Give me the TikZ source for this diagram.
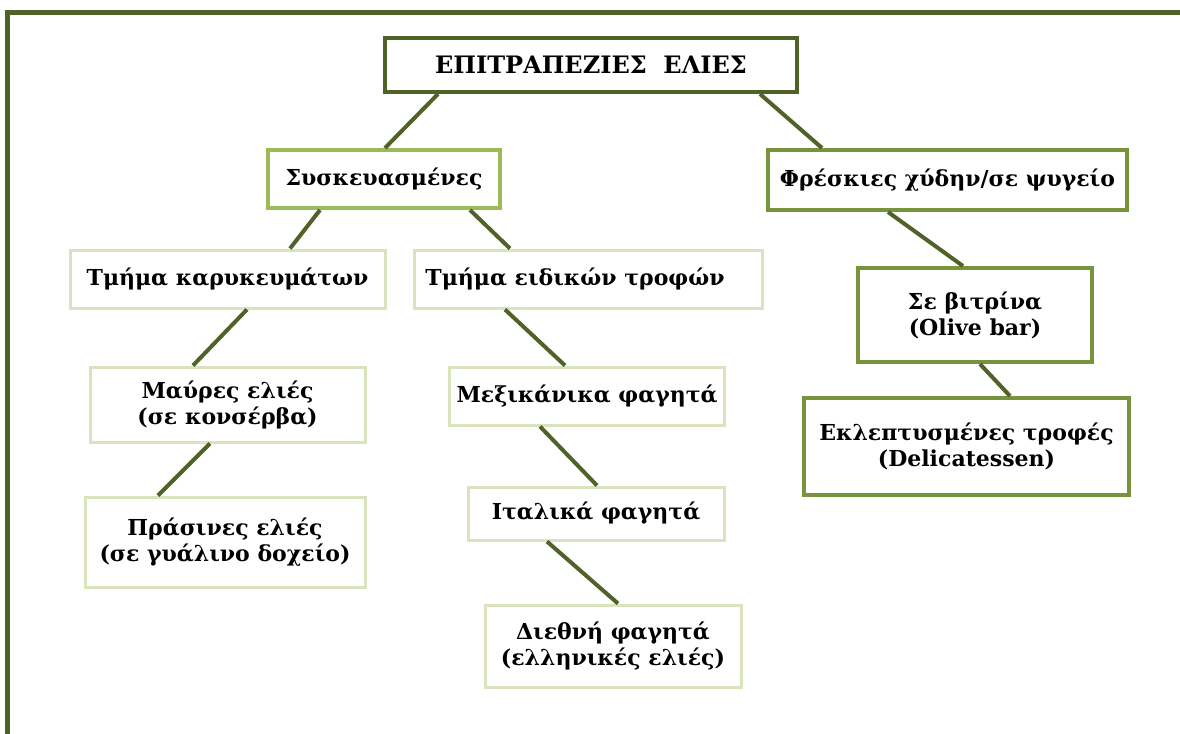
\documentclass[tikz,border=0pt]{standalone}
\usepackage{fontspec}
\setmainfont{DejaVu Serif}
\usepackage{xcolor}

\definecolor{olivedark}{HTML}{4F6228}
\definecolor{olivemid}{HTML}{77933C}
\definecolor{olivelight}{HTML}{9BBB59}
\definecolor{olivepale}{HTML}{D7E4BD}

\tikzset{
    rootbox/.style={draw=olivedark, line width=2pt, fill=white, align=center, font=\fontsize{12}{14}\selectfont\bfseries},
    groupbox/.style={draw=#1, line width=2pt, fill=white, align=center, font=\fontsize{11}{13}\selectfont\bfseries},
    leafbox/.style={draw=olivepale, line width=1.5pt, fill=white, align=center, font=\fontsize{11}{13}\selectfont\bfseries},
    link/.style={draw=olivedark, line width=2pt},
}

\begin{document}
\begin{tikzpicture}[x=1pt, y=1pt]
            \useasboundingbox (0,0) rectangle (590,-367);
            \draw[olivedark, line width=2.5pt] (592,-6) -- (3.5,-6) -- (3.5,-370);

            \node[rootbox, minimum width=206pt, minimum height=27pt] (root) at (295.5,-32.5) {ΕΠΙΤΡΑΠΕΖΙΕΣ\ \ ΕΛΙΕΣ};

            \node[groupbox=olivelight, minimum width=116pt, minimum height=29pt] (sys) at (192,-89.5) {Συσκευασμένες};
            \node[groupbox=olivemid, minimum width=179.5pt, minimum height=30pt] (fre) at (473.75,-90) {Φρέσκιες χύδην/σε ψυγείο};

            \node[leafbox, minimum width=157.5pt, minimum height=29pt] (kar) at (113.75,-139.5) {Τμήμα καρυκευμάτων};
            \node[leafbox, minimum width=174pt, minimum height=29pt] (eid) at (294,-139.5) {Τμήμα ειδικών τροφών\hspace{13pt}};

            \node[leafbox, minimum width=137.5pt, minimum height=37.5pt] (mav) at (113.75,-202.25) {Μαύρες ελιές\\(σε κονσέρβα)};
            \node[leafbox, minimum width=140pt, minimum height=45pt] (pra) at (112.5,-271) {Πράσινες ελιές\\(σε γυάλινο δοχείο)};

            \node[leafbox, minimum width=137pt, minimum height=29pt] (mex) at (293.5,-198) {Μεξικάνικα φαγητά};
            \node[leafbox, minimum width=128pt, minimum height=26.5pt] (ita) at (298,-256.75) {Ιταλικά φαγητά};
            \node[leafbox, minimum width=128pt, minimum height=41pt] (die) at (306.5,-323) {Διεθνή φαγητά\\(ελληνικές ελιές)};

            \node[groupbox=olivemid, minimum width=117pt, minimum height=47pt] (vit) at (487.5,-157.5) {Σε βιτρίνα\\(Olive bar)};
            \node[groupbox=olivemid, minimum width=162.5pt, minimum height=48.5pt] (dlc) at (483.25,-223.25) {Εκλεπτυσμένες τροφές\hspace{10pt}\\(Delicatessen)};

            \draw[link] ([xshift=-76.5pt]root.south) -- ([xshift=0.5pt]sys.north);
            \draw[link] ([xshift=84.5pt]root.south) -- ([xshift=-62.75pt]fre.north);
            \draw[link] ([xshift=-32pt]sys.south) -- ([xshift=31.25pt]kar.north);
            \draw[link] ([xshift=43pt]sys.south) -- ([xshift=-39pt]eid.north);
            \draw[link] ([xshift=9.75pt]kar.south) -- ([xshift=-17.25pt]mav.north);
            \draw[link] ([xshift=-8.75pt]mav.south) -- ([xshift=-33.5pt]pra.north);
            \draw[link] ([xshift=-41.5pt]eid.south) -- ([xshift=-11pt]mex.north);
            \draw[link] ([xshift=-23.5pt]mex.south) -- ([xshift=0.5pt]ita.north);
            \draw[link] ([xshift=-24.5pt]ita.south) -- ([xshift=2.5pt]die.north);
            \draw[link] ([xshift=-29.75pt]fre.south) -- ([xshift=-6pt]vit.north);
            \draw[link] ([xshift=2.5pt]vit.south) -- ([xshift=21.75pt]dlc.north);
        \end{tikzpicture}
\end{document}
